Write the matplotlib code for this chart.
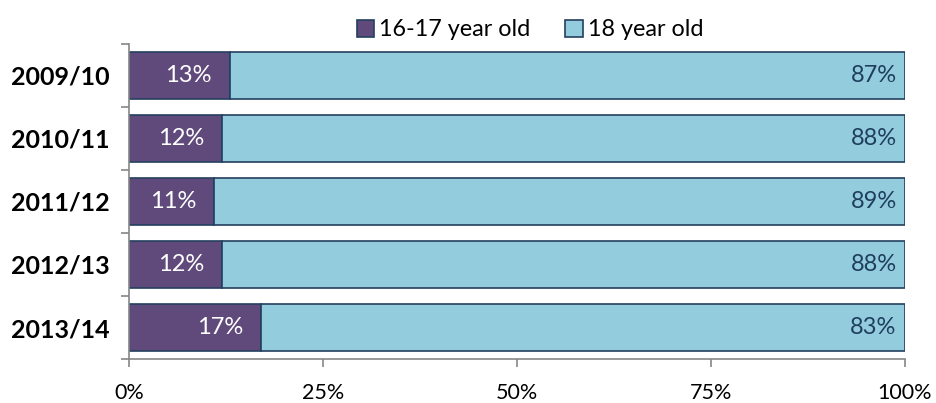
import matplotlib
matplotlib.use("Agg")
import matplotlib.pyplot as plt
from matplotlib.patches import Patch

years = ["2009/10", "2010/11", "2011/12", "2012/13", "2013/14"]
age_16_17 = [13, 12, 11, 12, 17]
age_18 = [87, 88, 89, 88, 83]
series_names = ["16-17 year old", "18 year old"]
x_ticks = [0, 25, 50, 75, 100]

plt.rcParams['font.family'] = ['Lato', 'DejaVu Sans']

purple = "#604A7B"
light_blue = "#93CDDD"
edge = "#243F60"
axis_grey = "#868686"

fig = plt.figure(figsize=(9.37, 4.03), dpi=100)
ax = fig.add_axes([129 / 937, 1 - 359 / 403, 776 / 937, 315 / 403])

pos = list(range(len(years)))
h = 0.75
ax.barh(pos, age_16_17, height=h, color=purple, edgecolor=edge, linewidth=1.2)
ax.barh(pos, age_18, left=age_16_17, height=h, color=light_blue, edgecolor=edge, linewidth=1.2)

for p, a, b in zip(pos, age_16_17, age_18):
    ax.annotate(f"{a}%", (a, p), xytext=(-13, 0), textcoords="offset points",
                ha="right", va="center", color="white", fontsize=17)
    ax.annotate(f"{b}%", (a + b, p), xytext=(-6, 0), textcoords="offset points",
                ha="right", va="center", color="#1F3E5E", fontsize=17)

ax.set_xlim(0, 100)
ax.set_ylim(len(years) - 0.5, -0.5)
ax.set_xticks(x_ticks)
ax.set_xticklabels([f"{t}%" for t in x_ticks], fontsize=15.5)

ax.set_yticks(pos)
ax.set_yticklabels(years, fontsize=18, fontweight="bold")
ax.tick_params(axis="y", length=0, pad=14)
ax.set_yticks([p - 0.5 for p in pos] + [len(years) - 0.5], minor=True)
ax.tick_params(axis="y", which="minor", length=6, color=axis_grey, width=1.2)
ax.tick_params(axis="x", length=6, color=axis_grey, width=1.2, pad=11)

for s in ["top", "right"]:
    ax.spines[s].set_visible(False)
for s in ["left", "bottom"]:
    ax.spines[s].set_color(axis_grey)
    ax.spines[s].set_linewidth(1.2)

handles = [Patch(facecolor=purple, edgecolor=edge, linewidth=1.2),
           Patch(facecolor=light_blue, edgecolor=edge, linewidth=1.2)]
fig.legend(handles, series_names, loc="center", bbox_to_anchor=(530 / 937, 1 - 30 / 403),
           ncol=2, frameon=False, fontsize=16.8, handlelength=0.75, handleheight=0.75,
           handletextpad=0.2, columnspacing=1.5, borderaxespad=0)

fig.savefig("out.png", dpi=100)
